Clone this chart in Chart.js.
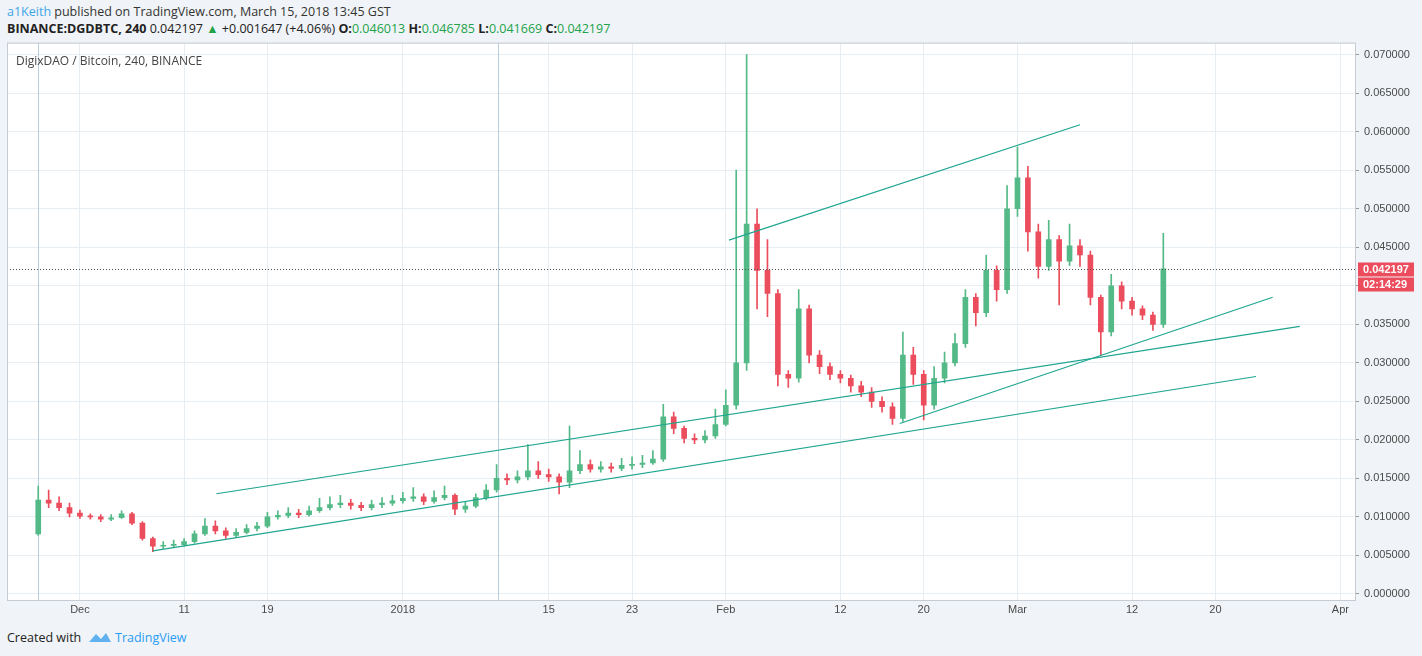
<!DOCTYPE html>
<html><head><meta charset="utf-8">
<script src="https://cdn.jsdelivr.net/npm/chart.js@4/dist/chart.umd.min.js"></script>
<style>
body{margin:0;width:1422px;height:656px;background:#f0f3f7;font-family:"Open Sans",Arial,sans-serif;position:relative;overflow:hidden}
#hdr1{position:absolute;left:7px;top:3px;font-size:12.5px;color:#333}
#hdr2{position:absolute;left:7px;top:20px;font-size:12.5px;color:#222}
#hdr2 b{font-weight:bold}
.g{color:#22a34a}
#wrap{position:absolute;left:7px;top:31px;width:1409px;height:589px;background:transparent}
#plotbg{position:absolute;left:7px;top:44px;width:1348px;height:556px;background:#fff}
#title{position:absolute;left:16px;top:52px;font-size:12px;color:#444}
#foot{position:absolute;left:7px;top:629px;font-size:12.5px;color:#222}
#foot span{color:#2a9df4}
</style></head><body>
<div id="hdr1"><span style="color:#3ea6e8">a1Keith</span> published on TradingView.com, March 15, 2018 13:45 GST</div>
<div id="hdr2"><b>BINANCE:DGDBTC, 240</b> 0.042197 <span class="g">▲</span> +0.001647 (+4.06%) <b>O:</b><span class="g">0.046013</span> <b>H:</b><span class="g">0.046785</span> <b>L:</b><span class="g">0.041669</span> <b>C:</b><span class="g">0.042197</span></div>
<div id="plotbg"></div>
<div id="wrap"><canvas id="c"></canvas></div>
<div id="title">DigixDAO / Bitcoin, 240, BINANCE</div>
<div id="foot">Created with &nbsp;<svg width="24" height="12" viewBox="0 0 24 12" style="vertical-align:-1px"><path d="M1 11 L8 3 L13 8 L18 2 L23 11 Z" fill="#5fb2ef"/></svg> <span>TradingView</span></div>
<script>
// values in thousandths of BTC; x = day offset from Dec 1 2017
const days = [];
for (let d = -4; d <= 104; d++) days.push(d);
const closes = [12.2,11.8,11.2,10.5,10.1,10.0,9.7,9.9,10.4,9.2,7.2,6.2,6.3,6.4,6.8,7.8,8.8,8.2,7.6,8.0,8.5,8.8,10.0,10.2,10.5,10.3,10.8,11.2,11.6,11.8,11.5,11.2,11.6,11.8,12.1,12.4,12.6,12.0,12.5,12.8,11.0,11.4,12.5,13.5,15.0,14.8,15.2,16.0,15.5,15.2,14.5,16.0,16.8,16.2,16.5,16.3,16.7,16.8,17.0,17.5,23.0,21.5,20.2,20.0,20.5,22.0,24.5,30.0,48.0,42.0,39.0,28.5,28.0,37.0,31.0,29.5,28.5,28.0,27.0,26.2,25.0,24.3,22.8,31.0,28.5,24.5,28.0,30.0,32.5,38.5,36.5,42.0,39.5,50.0,54.0,47.0,42.5,46.0,43.2,45.2,44.0,38.5,34.0,40.0,38.0,37.0,36.2,35.0,42.2];
const opens = [7.8].concat(closes.slice(0, -1));
const highs = [14.0,13.5,12.6,11.8,10.9,10.4,10.3,10.3,10.8,10.6,9.4,7.4,6.8,7.0,7.2,8.2,9.8,9.5,8.6,8.5,9.0,9.3,10.6,10.8,11.2,11.0,11.4,12.4,12.6,12.8,12.3,11.9,12.2,12.5,12.8,13.2,13.8,13.0,13.4,14.0,13.0,12.0,13.0,14.2,16.8,15.6,16.0,19.4,17.2,16.2,15.6,21.8,18.6,17.4,17.2,17.0,17.6,17.8,18.0,18.6,24.6,23.6,21.8,20.8,21.2,24.0,26.5,55.0,70.0,50.0,46.0,39.5,29.0,39.5,37.5,31.6,30.0,29.0,28.4,27.6,26.8,25.6,24.8,34.0,32.0,29.0,29.5,31.4,33.8,39.5,39.0,44.0,42.6,53.0,58.0,55.5,48.0,48.5,46.5,48.0,46.0,44.5,38.8,41.5,40.5,38.5,37.4,36.6,46.8];
const lows = [7.6,11.2,10.8,10.0,9.8,9.7,9.4,9.5,9.8,9.0,7.0,5.5,5.9,6.0,6.2,6.6,7.6,7.8,7.2,7.3,7.8,8.2,8.6,9.7,9.9,9.9,10.1,10.6,10.9,11.2,11.0,10.8,10.9,11.2,11.5,11.8,12.0,11.6,11.8,12.2,10.3,10.6,11.2,12.2,13.2,14.2,14.4,14.8,15.0,14.6,13.0,13.8,15.6,15.8,15.8,15.8,16.0,16.2,16.4,16.8,17.2,20.8,19.6,19.5,19.6,20.2,21.8,24.0,29.0,37.0,36.0,27.0,26.8,27.5,30.0,28.6,27.8,27.4,26.2,25.6,24.2,23.6,22.0,22.4,27.2,22.6,24.0,27.4,29.6,32.0,34.8,36.0,38.0,39.0,49.0,44.5,41.0,42.0,37.5,42.6,42.5,37.5,31.0,33.5,37.0,36.2,35.6,34.2,34.6];
const tickDays = [0,10,18,31,45,53,62,73,81,90,101,109,121];
const tickLabels = ["Dec","11","19","2018","15","23","Feb","12","20","Mar","12","20","Apr"];
const yTicks = [0,5,10,15,20,25,30,35,40,45,50,55,60,65,70];
const lastPrice = 42.197;
const trendLines = [
  [[62.3,45.93],[96.0,60.9]],
  [[13.1,13.01],[117.1,34.74]],
  [[7.0,5.59],[112.9,28.23]],
  [[78.7,22.12],[114.5,38.51]]
];
const UP="#53b987", DN="#eb4d5c";
const cols = closes.map((c,i)=> c>=opens[i]?UP:DN);
const datasets = [
  {type:'bar',data:days.map((d,i)=>({x:d,y:[lows[i],highs[i]]})),backgroundColor:cols,barThickness:1,grouped:false,order:2},
  {type:'bar',data:days.map((d,i)=>({x:d,y:[opens[i],closes[i]]})),backgroundColor:cols,barThickness:5,grouped:false,minBarLength:1,order:1}
];
trendLines.forEach(l=>datasets.push({type:'line',data:l.map(p=>({x:p[0],y:p[1]})),borderColor:'#1fa58f',borderWidth:1.2,pointRadius:0,order:0}));
const overlay = {id:'ov',
  beforeDatasetsDraw(ch){const {ctx,chartArea:a,scales:{x,y}}=ch;ctx.save();ctx.strokeStyle='#b8cde0';ctx.lineWidth=1;
    [-4,40.1].forEach(d=>{const px=Math.round(x.getPixelForValue(d))+0.5;ctx.beginPath();ctx.moveTo(px,a.top);ctx.lineTo(px,a.bottom);ctx.stroke();});ctx.restore();},
  afterDraw(ch){const {ctx,chartArea:a,scales:{y}}=ch;const py=Math.round(y.getPixelForValue(lastPrice))+0.5;
    ctx.save();ctx.strokeStyle='#555';ctx.setLineDash([1,2]);ctx.beginPath();ctx.moveTo(a.left,py);ctx.lineTo(a.right,py);ctx.stroke();ctx.setLineDash([]);
    ctx.strokeStyle='#c5cbd3';ctx.strokeRect(a.left+0.5,a.top+0.5,a.right-a.left,a.bottom-a.top);
    ctx.fillStyle='#eb4d5c';ctx.fillRect(a.right+3,py-7,56,14);ctx.fillRect(a.right+3,py+8,56,14);
    ctx.fillStyle='#fff';ctx.font='bold 11px "Liberation Sans"';ctx.textBaseline='middle';ctx.fillText('0.042197',a.right+8,py);ctx.fillText('02:14:29',a.right+8,py+15);ctx.restore();}
};
new Chart(document.getElementById('c'),{
  data:{datasets},
  options:{responsive:true,maintainAspectRatio:false,animation:false,layout:{padding:0},
    plugins:{legend:{display:false},tooltip:{enabled:false}},
    scales:{
      x:{type:'linear',offset:false,min:-7,max:122.4,afterBuildTicks(s){s.ticks=tickDays.map(v=>({value:v}));},afterFit(s){s.height=20;},
        ticks:{autoSkip:false,maxRotation:0,color:'#4a4a4a',font:{size:11,family:'Liberation Sans'},callback:(v,i)=>tickLabels[i],padding:3},
        grid:{color:'#e6edf3',drawTicks:false,offset:false},border:{display:false}},
      y:{position:'right',min:-0.78,max:71.56,afterBuildTicks(s){s.ticks=yTicks.map(v=>({value:v}));},afterFit(s){s.width=61;},
        ticks:{color:'#4a4a4a',font:{size:11,family:'Liberation Sans'},callback:v=>(v/1000).toFixed(6),padding:5},
        grid:{color:'#e6edf3',drawTicks:true,tickLength:4,tickColor:'#999'},border:{display:false}}
    }},
  plugins:[overlay]
});
</script></body></html>
